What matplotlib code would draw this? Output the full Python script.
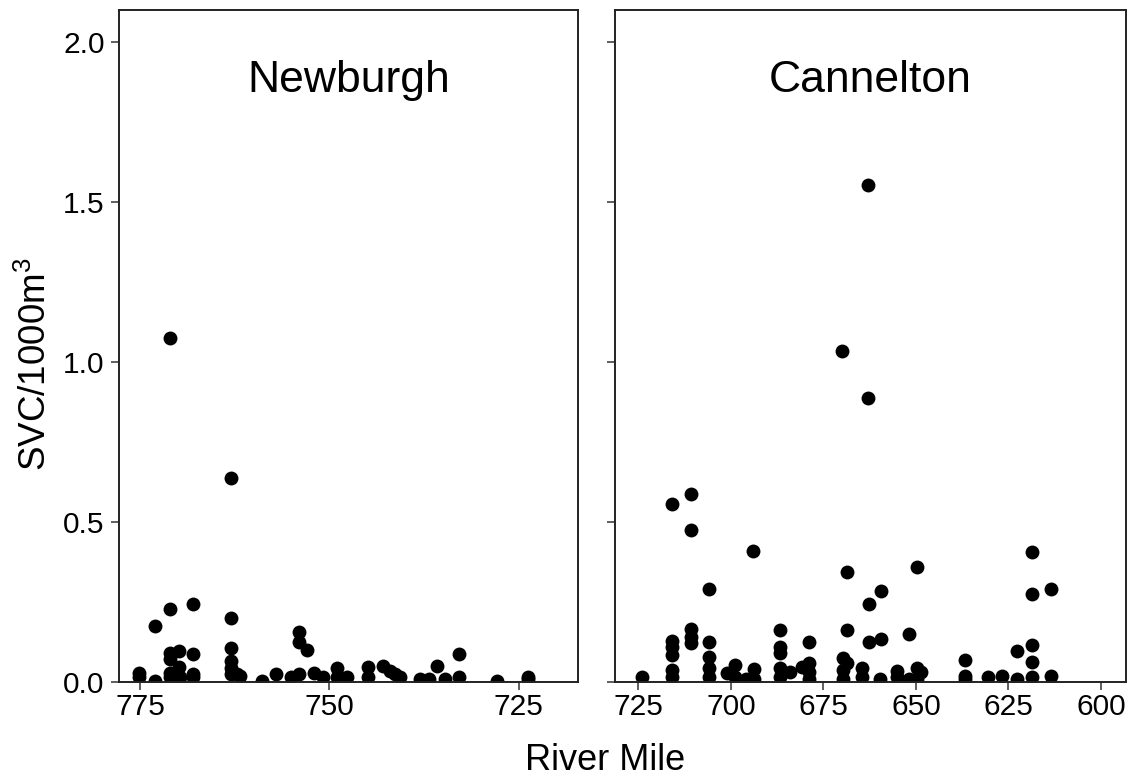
import matplotlib
matplotlib.use("Agg")
import matplotlib.pyplot as plt

plt.rcParams['font.family'] = ['Liberation Sans', 'DejaVu Sans']
plt.rcParams['mathtext.fontset'] = 'custom'
plt.rcParams['mathtext.rm'] = 'Liberation Sans'
plt.rcParams['mathtext.it'] = 'Liberation Sans'

# ---- data: (river mile, SVC/1000m^3) ----
newburgh_mile = [775.1, 775.1,
                 773.0, 773.0,
                 771.0, 771.0, 771.0, 771.0, 771.0, 771.0,
                 769.9, 769.9, 769.7,
                 768.0, 768.0, 768.0, 768.0,
                 763.0, 763.0, 763.0, 763.0, 763.0, 763.0,
                 762.2, 761.8, 758.9, 757.0, 755.0,
                 754.0, 754.0, 754.0, 752.9, 752.0, 750.8,
                 749.0, 749.0, 747.7, 744.9, 744.9,
                 742.9, 742.0, 741.3, 740.7, 738.0, 736.9,
                 735.8, 734.7, 732.9, 732.9, 727.9, 723.8, 723.8]
newburgh_svc = [0.029, 0.015,
                0.175, 0.003,
                1.075, 0.229, 0.092, 0.071, 0.029, 0.017,
                0.097, 0.047, 0.017,
                0.245, 0.087, 0.025, 0.015,
                0.639, 0.200, 0.107, 0.066, 0.045, 0.025,
                0.024, 0.020, 0.003, 0.024, 0.017,
                0.156, 0.125, 0.024, 0.099, 0.029, 0.015,
                0.045, 0.017, 0.015, 0.047, 0.017,
                0.050, 0.034, 0.024, 0.017, 0.008, 0.008,
                0.050, 0.008, 0.087, 0.017, 0.003, 0.017, 0.008]

cannelton_mile = [724.0,
                  716.0, 716.0, 716.0, 716.0, 716.0, 716.0,
                  710.9, 710.9, 710.9, 710.9, 710.9,
                  705.9, 705.9, 705.9, 705.9, 705.9,
                  701.2, 698.9, 698.9, 695.8, 694.0, 693.8, 693.8,
                  686.8, 686.8, 686.8, 686.8, 686.8,
                  684.1, 680.9, 678.8, 678.8, 678.8, 678.8,
                  670.0, 669.6, 669.6, 669.6, 668.7, 668.7, 668.7,
                  664.7, 664.7, 663.0, 663.0, 662.7, 662.7,
                  659.5, 659.5, 659.7, 655.2, 655.2, 651.8, 651.8,
                  649.6, 649.6, 649.6, 648.5,
                  636.7, 636.7, 636.7, 630.5, 626.6, 622.6, 622.6,
                  618.6, 618.6, 618.6, 618.6, 618.6, 613.6, 613.6]
cannelton_svc = [0.017,
                 0.557, 0.129, 0.110, 0.085, 0.038, 0.017,
                 0.587, 0.474, 0.166, 0.142, 0.121,
                 0.291, 0.124, 0.079, 0.043, 0.017,
                 0.029, 0.053, 0.017, 0.009, 0.408, 0.040, 0.009,
                 0.161, 0.110, 0.090, 0.043, 0.017,
                 0.032, 0.048, 0.124, 0.060, 0.032, 0.009,
                 1.033, 0.074, 0.038, 0.010, 0.345, 0.161, 0.060,
                 0.043, 0.017, 1.552, 0.889, 0.244, 0.126,
                 0.283, 0.134, 0.010, 0.033, 0.017, 0.149, 0.009,
                 0.359, 0.043, 0.010, 0.032,
                 0.069, 0.018, 0.009, 0.017, 0.020, 0.097, 0.009,
                 0.405, 0.274, 0.116, 0.062, 0.017, 0.290, 0.018]

panel_names = ["Newburgh", "Cannelton"]
newburgh_ticks = [775, 750, 725]
cannelton_ticks = [725, 700, 675, 650, 625, 600]
y_ticks = [0.0, 0.5, 1.0, 1.5, 2.0]

fig = plt.figure(figsize=(11.34, 7.77), dpi=100)
W, H = 1134, 777
bottom = 1 - 682 / H
top = 1 - 10 / H
ax1 = fig.add_axes([118.6 / W, bottom, (578.2 - 118.6) / W, top - bottom])
ax2 = fig.add_axes([615 / W, bottom, (1126 - 615) / W, top - bottom])

spine_col = '#222222'
for ax, mile, svc, name, xt, xl in [
        (ax1, newburgh_mile, newburgh_svc, panel_names[0], newburgh_ticks, (777.83, 717.13)),
        (ax2, cannelton_mile, cannelton_svc, panel_names[1], cannelton_ticks, (731.35, 593.2))]:
    ax.scatter(mile, svc, s=100, color='black', linewidths=0, zorder=3)
    ax.set_xlim(*xl)
    ax.set_ylim(0, 2.1)
    ax.set_xticks(xt)
    ax.set_yticks(y_ticks)
    for sp in ax.spines.values():
        sp.set_linewidth(1.4)
        sp.set_color(spine_col)
        sp.set_zorder(4)
    ax.tick_params(axis='both', length=6, width=1.1, color='#333333',
                   labelsize=21.5, labelcolor='black')
    ax.tick_params(axis='x', pad=2)
    ax.tick_params(axis='y', pad=4)
    ax.text(0.5, 0.878, name, transform=ax.transAxes, ha='center', va='baseline',
            fontsize=32, color='black')

ax1.set_yticklabels([f"{v:.1f}" for v in y_ticks])
ax1.set_xticklabels([str(v) for v in newburgh_ticks])
ax2.set_xticklabels([str(v) for v in cannelton_ticks])
ax2.set_yticklabels([])

fig.text(605 / W, 1 - 770 / H, "River Mile", ha='center', va='baseline', fontsize=26)
fig.text(0.032, 1 - 364 / H, "SVC/1000m$^3$", ha='center', va='center', rotation=90, fontsize=26.5)

fig.savefig("out.png", dpi=100)
